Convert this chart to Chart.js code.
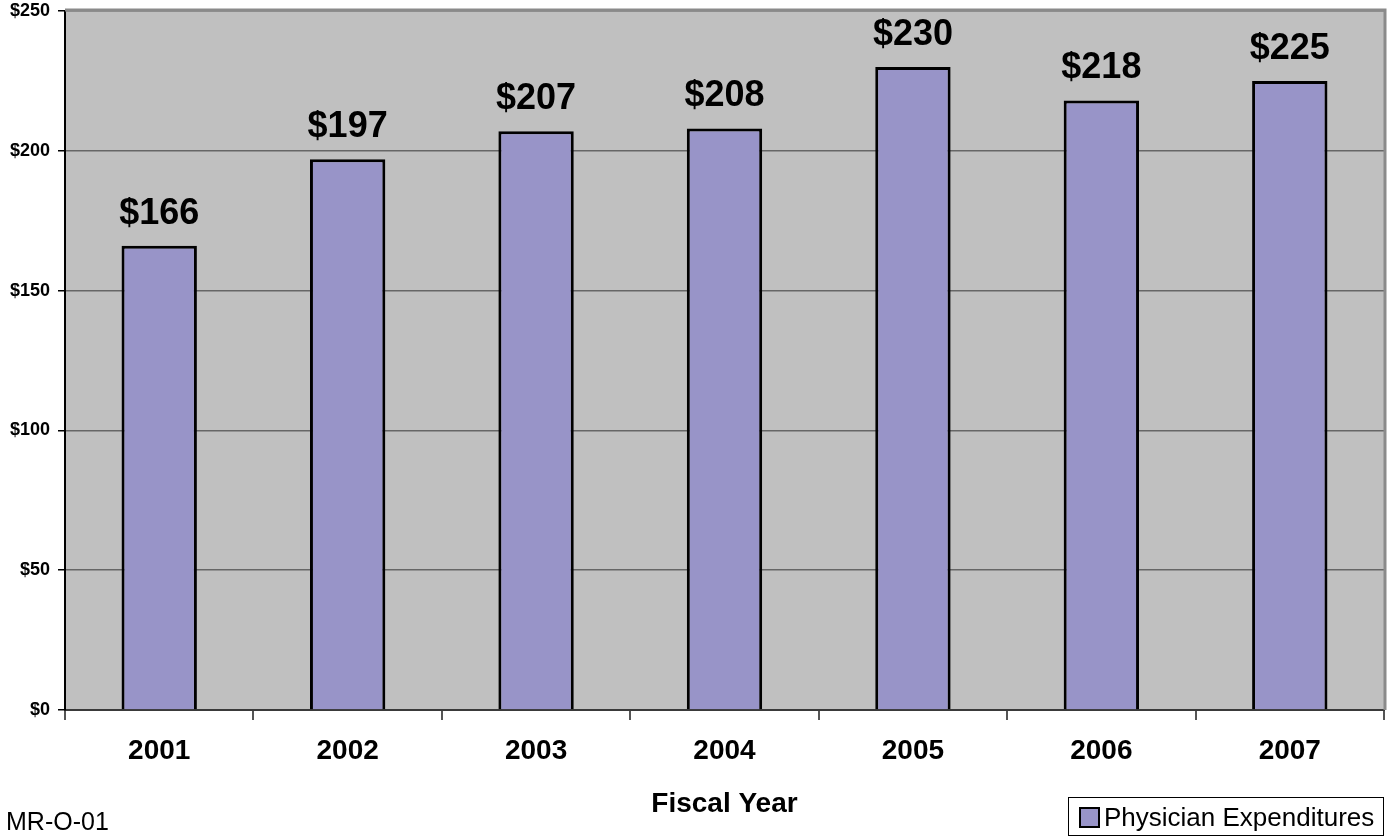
<!DOCTYPE html>
<html>
<head>
<meta charset="utf-8">
<script src="https://cdn.jsdelivr.net/npm/chart.js@4"></script>
<style>
html,body{margin:0;padding:0;background:#fff;}
#wrap{width:1389px;height:837px;position:relative;}
</style>
</head>
<body>
<div id="wrap"><canvas id="c" width="1389" height="837"></canvas></div>
<script>
const categories = ['2001','2002','2003','2004','2005','2006','2007'];
const expenditures = [166, 197, 207, 208, 230, 218, 225];
const seriesName = 'Physician Expenditures';
const yTicks = [0, 50, 100, 150, 200, 250];
const xTitle = 'Fiscal Year';
const footnote = 'MR-O-01';

const FONT = '"Liberation Sans", Arial, sans-serif';
const BAR = '#9894C8';

const extras = {
  id: 'extras',
  beforeDraw(chart) {
    const {ctx, chartArea: a} = chart;
    ctx.save();
    ctx.fillStyle = '#C0C0C0';
    ctx.fillRect(a.left, a.top, a.right - a.left, a.bottom - a.top);
    ctx.restore();
  },
  afterDatasetsDraw(chart) {
    const {ctx, chartArea: a} = chart;
    ctx.save();
    ctx.strokeStyle = '#8A8A8A';
    ctx.lineWidth = 3;
    ctx.beginPath();
    ctx.moveTo(a.left, a.top - 1);
    ctx.lineTo(a.right + 1, a.top - 1);
    ctx.lineTo(a.right + 1, a.bottom);
    ctx.stroke();
    const meta = chart.getDatasetMeta(0);
    ctx.fillStyle = '#000';
    ctx.font = 'bold 36px ' + FONT;
    ctx.textAlign = 'center';
    ctx.textBaseline = 'alphabetic';
    meta.data.forEach((bar, i) => {
      ctx.fillText('$' + expenditures[i], bar.x, bar.y - 22);
    });
    ctx.restore();
  },
  afterDraw(chart) {
    const {ctx, chartArea: a} = chart;
    ctx.save();
    ctx.fillStyle = '#000';
    ctx.font = 'bold 28px ' + FONT;
    ctx.textAlign = 'center';
    ctx.textBaseline = 'alphabetic';
    ctx.fillText(xTitle, (a.left + a.right) / 2, 812);
    ctx.font = '25px ' + FONT;
    ctx.textAlign = 'left';
    ctx.fillText(footnote, 6, 830);
    ctx.strokeStyle = '#000';
    ctx.lineWidth = 1;
    ctx.strokeRect(1068.5, 797.5, 315, 38);
    ctx.fillStyle = BAR;
    ctx.fillRect(1080, 808, 19, 19);
    ctx.lineWidth = 2;
    ctx.strokeRect(1080, 808, 19, 19);
    ctx.fillStyle = '#000';
    ctx.font = '26px ' + FONT;
    ctx.fillText(seriesName, 1104, 826);
    ctx.restore();
  }
};

new Chart(document.getElementById('c'), {
  type: 'bar',
  data: {
    labels: categories,
    datasets: [{
      label: seriesName,
      data: expenditures,
      backgroundColor: BAR,
      borderColor: '#000',
      borderWidth: 3,
      borderSkipped: 'bottom',
      categoryPercentage: 1,
      barPercentage: 0.4
    }]
  },
  options: {
    responsive: false,
    animation: false,
    events: [],
    layout: {padding: {top: 11, right: 5, left: 0, bottom: 0}},
    plugins: {legend: {display: false}, tooltip: {enabled: false}, title: {display: false}},
    scales: {
      x: {
        offset: true,
        grid: {offset: true, drawOnChartArea: false, drawTicks: true, tickLength: 10, color: '#555', lineWidth: 2},
        border: {display: true, color: '#3A3A3A', width: 2},
        ticks: {color: '#000', padding: 14, font: {family: FONT, size: 28, weight: 'bold'}},
        afterFit(s) { s.height = 127; s.paddingLeft = 0; s.paddingRight = 0; }
      },
      y: {
        min: 0, max: 250,
        afterBuildTicks(s) { s.ticks = yTicks.map(v => ({value: v})); },
        grid: {color: '#666', lineWidth: 1.5, tickLength: 7, tickColor: '#000', drawTicks: true},
        border: {display: true, color: '#000', width: 2},
        ticks: {color: '#000', padding: 8, font: {family: FONT, size: 18, weight: 'bold'}, callback: v => '$' + v},
        afterFit(s) { s.width = 65; s.paddingTop = 0; s.paddingBottom = 0; }
      }
    }
  },
  plugins: [extras]
});
</script>
</body>
</html>
